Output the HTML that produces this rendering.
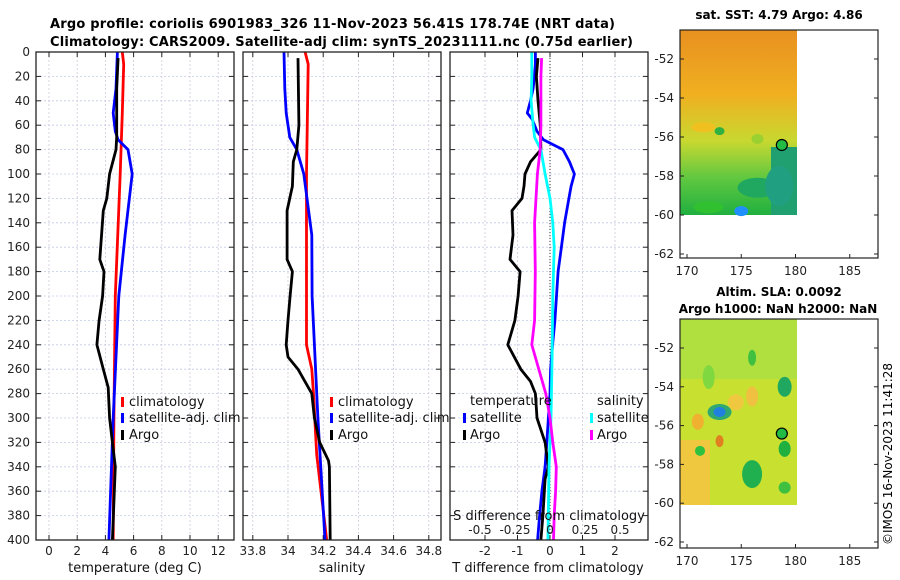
<!DOCTYPE html>
<html><head><meta charset="utf-8"><style>
body{margin:0;background:#fff;}
svg{display:block;font-family:"DejaVu Sans","Liberation Sans",sans-serif;}
</style></head><body>
<svg id="c" width="900" height="580" viewBox="0 0 900 580">
<text x="50" y="28" font-size="13" font-weight="bold" textLength="565">Argo profile: coriolis 6901983_326 11-Nov-2023 56.41S 178.74E (NRT data)</text>
<text x="50" y="46" font-size="13" font-weight="bold" textLength="583">Climatology: CARS2009. Satellite-adj clim: synTS_20231111.nc (0.75d earlier)</text>
<g id="g1"></g>
<g id="g2"></g>
<g id="g3"></g>
<g id="m1"></g>
<g id="m2"></g>
<text x="779" y="19" font-size="12" font-weight="bold" text-anchor="middle">sat. SST: 4.79 Argo: 4.86</text>
<text x="779" y="296" font-size="12" font-weight="bold" text-anchor="middle">Altim. SLA: 0.0092</text>
<text x="778" y="313" font-size="12" font-weight="bold" text-anchor="middle">Argo h1000: NaN h2000: NaN</text>
<text transform="translate(892,545) rotate(-90)" font-size="12">©IMOS 16-Nov-2023 11:41:28</text>
</svg>
<script>
// depth ticks
const depthTicks=[0,20,40,60,80,100,120,140,160,180,200,220,240,260,280,300,320,340,360,380,400];
// temperature panel
const tempTicks=[0,2,4,6,8,10,12];
const tClimDepth=[0,10,50,100,200,300,400];
const tClim=[5.2,5.3,5.2,5.05,4.7,4.6,4.55];
const tSatDepth=[0,30,50,65,72,80,100,150,200,300,400];
const tSat=[4.85,4.75,4.55,4.7,4.9,5.6,5.9,5.4,4.95,4.55,4.25];
const tArgoDepth=[5,30,70,80,100,110,120,130,170,180,200,220,240,260,275,300,320,340,400];
const tArgo=[4.9,4.8,4.8,4.75,4.3,4.2,4.1,3.85,3.6,3.9,3.8,3.55,3.4,3.85,4.2,4.3,4.5,4.7,4.5];
// salinity panel
const salTicks=[33.8,34,34.2,34.4,34.6,34.8];
const sClimDepth=[0,10,100,200,240,260,280,330,400];
const sClim=[34.097,34.115,34.105,34.105,34.105,34.135,34.145,34.163,34.22];
const sSatDepth=[0,30,50,70,80,100,120,150,200,300,400];
const sSat=[33.977,33.982,33.99,34.01,34.05,34.09,34.108,34.135,34.137,34.17,34.21];
const sArgoDepth=[5,60,80,90,110,130,170,180,200,220,240,250,260,280,300,320,335,340,400];
const sArgo=[34.057,34.062,34.05,34.03,34.025,33.995,33.995,34.025,34.012,34.0,33.99,34.0,34.057,34.135,34.15,34.18,34.23,34.235,34.24];
// difference panel
const tDiffTicks=[-2,-1,0,1,2];
const sDiffTicks=[-0.5,-0.25,0,0.25,0.5];
const sDiffLabels=["-0.5","-0.25","0","0.25","0.5"];
const dTSatDepth=[0,10,20,30,40,50,55,65,72,76,80,90,100,110,120,140,160,180,200,220,240,260,280,300,320,340,360,380,400];
const dTSat=[-0.45,-0.45,-0.48,-0.52,-0.6,-0.7,-0.55,-0.4,-0.2,0.1,0.4,0.6,0.75,0.65,0.58,0.45,0.35,0.25,0.2,0.15,0.08,0.02,0,-0.05,-0.1,-0.15,-0.25,-0.32,-0.38];
const dTArgoDepth=[5,20,40,60,80,90,100,110,120,130,150,170,180,200,220,240,260,270,280,300,320,340,350,380,400];
const dTArgo=[-0.37,-0.42,-0.37,-0.3,-0.28,-0.6,-0.77,-0.8,-0.86,-1.17,-1.14,-1.23,-0.92,-0.98,-1.08,-1.3,-0.9,-0.6,-0.45,-0.4,-0.15,-0.05,-0.15,-0.22,-0.28];
const dSSatDepth=[0,20,40,60,70,80,100,120,140,160,200,250,300,340,400];
const dSSat=[-0.13,-0.13,-0.135,-0.12,-0.11,-0.065,-0.035,0,0.02,0.03,0.02,0.015,0.007,-0.007,-0.015];
const dSArgoDepth=[5,20,40,60,80,100,140,180,220,240,260,280,300,320,340,360,380,400];
const dSArgo=[-0.06,-0.065,-0.065,-0.065,-0.07,-0.09,-0.11,-0.105,-0.11,-0.13,-0.08,-0.03,0,0.02,0.045,0.04,0.03,0.025];

const NS='http://www.w3.org/2000/svg';
function mk(tag,attrs,parent){const e=document.createElementNS(NS,tag);for(const k in attrs)e.setAttribute(k,attrs[k]);parent.appendChild(e);return e;}
const Y0=52,Y1=540;
const yD=d=>Y0+(d/400)*(Y1-Y0);
const xT=t=>49+t*14.1;
const xS=s=>288+(s-34)*176;
const xDT=d=>550+d*32.5;
const xDS=d=>550+d*140;

function panel(g,x0,x1,vgridX,labelsLeft){
  depthTicks.forEach(d=>{
    const l=mk('line',{x1:x0,x2:x1,y1:yD(d),y2:yD(d),stroke:'#c0cbe8','stroke-width':0.8,'stroke-dasharray':'2,2'},g);
    
    
    const t1=mk('line',{x1:x0,x2:x0+5,y1:yD(d),y2:yD(d),stroke:'#222','stroke-width':1},g);
    
    
    const t2=mk('line',{x1:x1-5,x2:x1,y1:yD(d),y2:yD(d),stroke:'#222','stroke-width':1},g);
    
    
    if(labelsLeft){
      const tx=mk('text',{x:x0-6,y:yD(d)+4,'font-size':12,'text-anchor':'end',fill:'#222'},g);
      tx.textContent=d;
      
      
    }
  });
  vgridX.forEach(x=>{
    const l=mk('line',{x1:x,x2:x,y1:Y0,y2:Y1,stroke:'#d0c8d8','stroke-width':0.8,'stroke-dasharray':'2,2'},g);
    
    
    const t=mk('line',{x1:x,x2:x,y1:Y1-5,y2:Y1,stroke:'#222','stroke-width':1},g);
    
    
    const t2=mk('line',{x1:x,x2:x,y1:Y0,y2:Y0+5,stroke:'#222','stroke-width':1},g);
    
    
  });
}
function frame(g,x0,x1){
  const r=mk('rect',{x:x0,y:Y0,width:x1-x0,height:Y1-Y0,fill:'none',stroke:'#222','stroke-width':1.3},g);
  
  
}
function series(g,depths,vals,xf,color,name){
  const pts=depths.map((d,i)=>xf(vals[i]).toFixed(1)+','+yD(d).toFixed(1)).join(' ');
  const p=mk('polyline',{points:pts,fill:'none',stroke:color,'stroke-width':2.8,'stroke-linejoin':'round'},g);
  
  
}
function xlabels(g,ticks,xf,labels,y){
  ticks.forEach((t,i)=>{
    const tx=mk('text',{x:xf(t),y:y,'font-size':12,'text-anchor':'middle',fill:'#222'},g);
    tx.textContent=labels?labels[i]:String(t);
    
    
  });
}
function text(g,x,y,s,name,anchor){
  const t=mk('text',{x:x,y:y,'font-size':13,fill:'#111','text-anchor':anchor||'start'},g);
  t.textContent=s;
  
  
  return t;
}
function legMark(g,x,y,color){
  const r=mk('rect',{x:x,y:y-9,width:3,height:10,fill:color},g);
  
  
}

// Panel 1
const g1=document.getElementById('g1');
panel(g1,36,234,tempTicks.map(xT),true);
series(g1,tClimDepth,tClim,xT,'#f00','temp-climatology-line');
series(g1,tSatDepth,tSat,xT,'#00f','temp-satellite-line');
series(g1,tArgoDepth,tArgo,xT,'#000','temp-argo-line');
frame(g1,36,234);
xlabels(g1,tempTicks,xT,null,555);
text(g1,135,572,'temperature (deg C)','x-axis-title','middle');
[['climatology','#f00',406],['satellite-adj. clim','#00f',422],['Argo','#000',439]].forEach(a=>{legMark(g1,121,a[2],a[1]);text(g1,129,a[2],a[0],'legend-entry');});

// Panel 2
const g2=document.getElementById('g2');
panel(g2,243,441,salTicks.map(xS),false);
series(g2,sClimDepth,sClim,xS,'#f00','sal-climatology-line');
series(g2,sSatDepth,sSat,xS,'#00f','sal-satellite-line');
series(g2,sArgoDepth,sArgo,xS,'#000','sal-argo-line');
frame(g2,243,441);
xlabels(g2,salTicks,xS,salTicks.map(v=>String(+v.toFixed(1))),555);
text(g2,342,572,'salinity','x-axis-title','middle');
[['climatology','#f00',406],['satellite-adj. clim','#00f',422],['Argo','#000',439]].forEach(a=>{legMark(g2,330,a[2],a[1]);text(g2,338,a[2],a[0],'legend-entry');});

// Panel 3
const g3=document.getElementById('g3');
panel(g3,450,648,tDiffTicks.map(xDT),false);
const zl=mk('line',{x1:550,x2:550,y1:Y0,y2:Y1,stroke:'#333','stroke-width':1,'stroke-dasharray':'1,2'},g3);


series(g3,dTSatDepth,dTSat,xDT,'#00f','tdiff-satellite-line');
series(g3,dTArgoDepth,dTArgo,xDT,'#000','tdiff-argo-line');
series(g3,dSSatDepth,dSSat,xDS,'#0ff','sdiff-satellite-line');
series(g3,dSArgoDepth,dSArgo,xDS,'#f0f','sdiff-argo-line');
frame(g3,450,648);
xlabels(g3,tDiffTicks,xDT,null,555);
text(g3,548,572,'T difference from climatology','x-axis-title','middle');
text(g3,549,520,'S difference from climatology','s-axis-title','middle');
xlabels(g3,sDiffTicks,xDS,sDiffLabels,534);
text(g3,470,405,'temperature','legend-title');
text(g3,597,405,'salinity','legend-title');
[['satellite','#00f',422],['Argo','#000',439]].forEach(a=>{legMark(g3,463,a[2],a[1]);text(g3,470,a[2],a[0],'legend-entry');});
[['satellite','#0ff',422],['Argo','#f0f',439]].forEach(a=>{legMark(g3,590,a[2],a[1]);text(g3,597,a[2],a[0],'legend-entry');});

// Maps
const lonTicks=[170,175,180,185];
const latTicks=[-52,-54,-56,-58,-60,-62];
const argoLon=178.74, argoLat=-56.41;
function map(id,yTop,yBot,latToY,blobs,base){
  const g=document.getElementById(id);
  const xL=lo=>687+(lo-170)*10.85;
  const img=mk('g',{},g);
  
  
  base(img,xL,latToY);
  blobs.forEach(b=>{
    const e=mk('ellipse',{cx:xL(b[0]),cy:latToY(b[1]),rx:b[2],ry:b[3],fill:b[4]},img);
    
    
  });
  const r=mk('rect',{x:680,y:yTop,width:198,height:yBot-yTop,fill:'none',stroke:'#222','stroke-width':1.2},g);
  
  
  latTicks.forEach(la=>{
    const y=latToY(la);
    const t=mk('line',{x1:680,x2:684,y1:y,y2:y,stroke:'#222'},g);
    
    
    const t2=mk('line',{x1:874,x2:878,y1:y,y2:y,stroke:'#222'},g);
    
    
    const tx=mk('text',{x:674,y:y+4,'font-size':12,'text-anchor':'end',fill:'#222'},g);
    tx.textContent=la;
    
    
  });
  lonTicks.forEach(lo=>{
    const x=xL(lo);
    const t=mk('line',{x1:x,x2:x,y1:yBot-4,y2:yBot,stroke:'#222'},g);
    
    
    const tx=mk('text',{x:x,y:yBot+17,'font-size':12,'text-anchor':'middle',fill:'#222'},g);
    tx.textContent=lo;
    
    
  });
  const c=mk('circle',{cx:xL(argoLon),cy:latToY(argoLat),r:5.5,fill:'#22bb44',stroke:'#000','stroke-width':1.2},g);
  
  
}
map('m1',30,258,la=>59+(-52-la)*19.5,[
  [171.5,-55.5,12,5,'#f0c020'],[173,-55.7,5,4,'#30b040'],[176.5,-56.1,6,5,'#9ad030'],
  [176.5,-58.6,20,10,'#20a860'],[178.5,-58.5,14,20,'#20a080'],[175,-59.8,7,5,'#2090ff'],[172,-59.6,15,6,'#30c030']
],function(img,xL,yL){
  const d=mk('defs',{},img);
  const lg=mk('linearGradient',{id:'sstg',x1:0,y1:0,x2:0,y2:1},d);
  mk('stop',{offset:'0','stop-color':'#e89020'},lg);
  mk('stop',{offset:'0.35','stop-color':'#f0b020'},lg);
  mk('stop',{offset:'0.6','stop-color':'#c8d830'},lg);
  mk('stop',{offset:'0.8','stop-color':'#60c840'},lg);
  mk('stop',{offset:'1','stop-color':'#20b040'},lg);
  mk('rect',{x:680,y:30,width:117,height:185,fill:'url(#sstg)'},img);
  mk('rect',{x:771,y:147,width:26,height:68,fill:'#20a070'},img);
});
map('m2',319,548,la=>348+(-52-la)*19.4,[
  [172,-53.5,6,12,'#80d840'],[176,-52.5,4,8,'#40c040'],[179,-54,7,10,'#20a860'],
  [173,-55.3,12,8,'#30a870'],[173,-55.3,6,5,'#2080e0'],[174.5,-54.8,8,8,'#f0c840'],
  [176,-54.5,6,10,'#f0c040'],[171,-55.8,6,8,'#f0b030'],[173,-56.8,4,6,'#e08020'],
  [171.2,-57.3,5,5,'#30c040'],[176,-58.5,10,14,'#20b050'],[179,-57.2,6,8,'#20b040'],[179,-59.2,6,6,'#40c040']
],function(img){
  mk('rect',{x:680,y:319,width:117,height:186,fill:'#c8e030'},img);
  mk('rect',{x:680,y:319,width:117,height:60,fill:'#b0e040'},img);
  mk('rect',{x:680,y:440,width:30,height:65,fill:'#f0c840'},img);
});
</script>
</body></html>
